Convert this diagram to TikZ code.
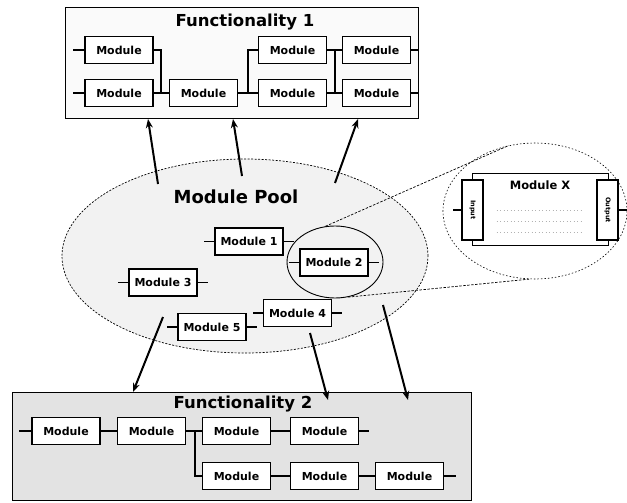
\documentclass[tikz,border=0pt]{standalone}
\usepackage{fontspec}
\setmainfont{DejaVu Sans}
\usetikzlibrary{arrows.meta,shapes.geometric,calc}

\begin{document}
\begin{tikzpicture}[x=1pt,y=-1pt,
  mod/.style={draw,line width=1.7pt,fill=white,minimum width=68pt,minimum height=27pt,
    inner sep=0pt,font=\bfseries\fontsize{11}{12}\selectfont},
  wire/.style={line width=1.7pt},
  feed/.style={line width=2pt,-{Stealth[length=9pt,width=7pt]}},
  heading/.style={font=\bfseries\fontsize{16.5}{18}\selectfont,inner sep=0pt},
  zoomline/.style={line width=0.7pt,dash pattern=on 2.5pt off 1.5pt},
  sidebox/.style={draw,line width=1.2pt,fill=white,minimum width=21pt,minimum height=60pt,inner sep=0pt},
]
\useasboundingbox (0,0) rectangle (627,503);

% ---------- Functionality 1 ----------
\node[draw,line width=1pt,fill=gray!4,minimum width=353pt,minimum height=110pt,inner sep=0pt]
  (f1) at (241.5,63) {};
\node[heading] (f1t) at (245,22) {Functionality 1};

\node[mod] (a1) at (119,50) {Module};
\node[mod] (a2) at (119,93) {Module};
\node[mod] (b1) at (203.5,93) {Module};
\node[mod] (c1) at (292.5,50) {Module};
\node[mod] (c2) at (292.5,93) {Module};
\node[mod] (d1) at (376.5,50) {Module};
\node[mod] (d2) at (376.5,93) {Module};

\coordinate (ja) at (161,93);
\coordinate (jb) at (248,93);
\coordinate (jc) at (335,50);
\coordinate (jd) at (335,93);

\draw[wire] (a1.west) -- ++(-11,0);
\draw[wire] (a2.west) -- ++(-11,0);
\draw[wire] (a1.east) -| (ja);
\draw[wire] (a2.east) -- (b1.west);
\draw[wire] (b1.east) -- (c2.west);
\draw[wire] (c1.west) -| (jb);
\draw[wire] (c1.east) -- (d1.west);
\draw[wire] (c2.east) -- (d2.west);
\draw[wire] (jc) -- (jd);
\draw[wire] (d1.east) -- ++(8,0);
\draw[wire] (d2.east) -- ++(8,0);

% ---------- Functionality 2 ----------
\node[draw,line width=1pt,fill=gray!22,minimum width=459pt,minimum height=108pt,inner sep=0pt]
  (f2) at (241.5,446) {};
\node[heading] (f2t) at (243,404) {Functionality 2};

\node[mod] (g1) at (66,431) {Module};
\node[mod] (g2) at (151.5,431) {Module};
\node[mod] (g3) at (236.5,431) {Module};
\node[mod] (g4) at (324.5,431) {Module};
\node[mod] (h1) at (236.5,476) {Module};
\node[mod] (h2) at (324.5,476) {Module};
\node[mod] (h3) at (409.5,476) {Module};

\coordinate (jg) at (195,431);

\draw[wire] (g1.west) -- ++(-12,0);
\draw[wire] (g1.east) -- (g2.west);
\draw[wire] (g2.east) -- (g3.west);
\draw[wire] (jg) |- (h1.west);
\draw[wire] (g3.east) -- (g4.west);
\draw[wire] (g4.east) -- ++(10,0);
\draw[wire] (h1.east) -- (h2.west);
\draw[wire] (h2.east) -- (h3.west);
\draw[wire] (h3.east) -- ++(12,0);

% ---------- Module Pool ----------
\node[ellipse,draw,line width=0.7pt,dash pattern=on 2pt off 1.5pt,fill=gray!10,
  minimum width=366pt,minimum height=194pt,inner sep=0pt] (pool) at (245,256) {};
\node[font=\bfseries\fontsize{18}{20}\selectfont,inner sep=0pt] (poolt) at (236,197) {Module Pool};

\node[ellipse,draw,line width=0.9pt,minimum width=96pt,minimum height=72pt,inner sep=0pt]
  (zoomc) at (335,262) {};

\node[mod] (m1) at (249,241.5) {Module 1};
\node[mod] (m2) at (334,262.5) {Module 2};
\node[mod] (m3) at (163,282.5) {Module 3};
\node[mod] (m4) at (297.5,313) {Module 4};
\node[mod] (m5) at (212,327) {Module 5};

\foreach \m in {m1,m2,m3,m4,m5}{
  \draw[wire] (\m.west) -- ++(-10,0);
  \draw[wire] (\m.east) -- ++(10,0);
}

% ---------- magnified Module X ----------
\node[ellipse,draw,line width=0.6pt,dash pattern=on 1.5pt off 2pt,
  minimum width=184pt,minimum height=136pt,inner sep=0pt] (big) at (535,211) {};
\draw[zoomline] (zoomc.105) -- (big.112);
\draw[zoomline] (zoomc.290) -- (big.265);

\node[draw,line width=1pt,fill=white,minimum width=136pt,minimum height=72pt,inner sep=0pt]
  (mx) at (540,209) {};
\node[font=\bfseries\fontsize{11.5}{12}\selectfont,inner sep=0pt] (mxt) at (540,185) {Module X};
\foreach \yy in {210,221,232}{
  \draw[gray!60,line width=0.8pt,dash pattern=on 1pt off 2.5pt] ($(mx.west)+(25,\yy-209)$) -- ($(mx.east)+(-25,\yy-209)$);
}
\node[sidebox] (inb) at (472.5,210) {};
\node[rotate=-90,font=\bfseries\fontsize{6.5}{7}\selectfont,inner sep=0pt] (inbt) at (inb.center) {Input};
\node[sidebox] (outb) at (607.5,210) {};
\node[rotate=-90,font=\bfseries\fontsize{6.5}{7}\selectfont,inner sep=0pt] (outbt) at (outb.center) {Output};
\draw[wire] (inb.west) -- ++(-8,0);
\draw[wire] (outb.east) -- ++(8,0);

% ---------- arrows from the pool ----------
\coordinate (u1s) at (158,184); \coordinate (u1e) at (148,119);
\coordinate (u2s) at (242,176); \coordinate (u2e) at (233,119);
\coordinate (u3s) at (335,183); \coordinate (u3e) at (358,119);
\draw[feed] (u1s) -- (u1e);
\draw[feed] (u2s) -- (u2e);
\draw[feed] (u3s) -- (u3e);

\coordinate (v1s) at (163,317); \coordinate (v1e) at (133,392);
\coordinate (v2s) at (310,333); \coordinate (v2e) at (328,400);
\coordinate (v3s) at (383,305); \coordinate (v3e) at (408,400);
\draw[feed] (v1s) -- (v1e);
\draw[feed] (v2s) -- (v2e);
\draw[feed] (v3s) -- (v3e);
\end{tikzpicture}
\end{document}
